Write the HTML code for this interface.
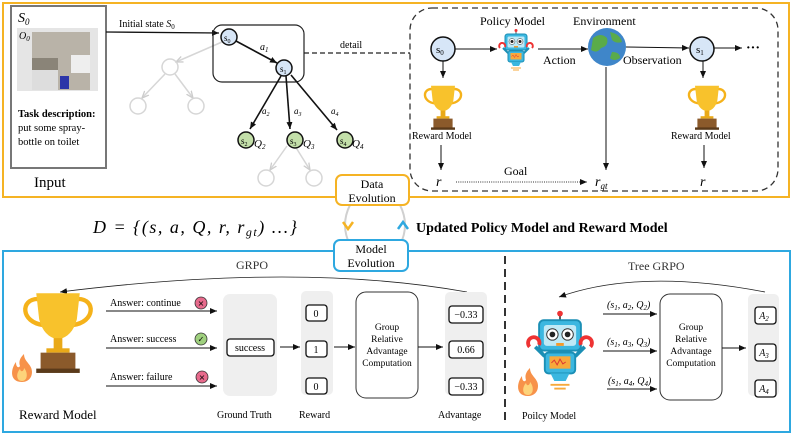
<!DOCTYPE html>
<html><head><meta charset="utf-8"><style>
body{margin:0;background:#fff;}
svg{display:block;font-family:"Liberation Serif",serif;}
.it{font-style:italic;}
</style></head><body>
<svg width="793" height="436" viewBox="0 0 793 436" xmlns="http://www.w3.org/2000/svg">
<defs>
<marker id="ah" markerWidth="8" markerHeight="8" refX="7" refY="4" orient="auto" markerUnits="userSpaceOnUse"><path d="M0,1 L7,4 L0,7 z" fill="#111"/></marker>
<marker id="ahg" markerWidth="8" markerHeight="8" refX="7" refY="4" orient="auto" markerUnits="userSpaceOnUse"><path d="M0,1 L7,4 L0,7" fill="none" stroke="#ccc" stroke-width="1.3"/></marker>
<g id="trophy">
<path d="M-14,-20 C-26,-20 -26,-4 -10,-2" fill="none" stroke="#f5b21a" stroke-width="3"/>
<path d="M14,-20 C26,-20 26,-4 10,-2" fill="none" stroke="#f5b21a" stroke-width="3"/>
<path d="M-15,-24 L15,-24 L13,-6 Q10,6 0,8 Q-10,6 -13,-6 z" fill="#f8c22c"/>
<rect x="-3" y="7" width="6" height="8" fill="#e9a918"/>
<rect x="-8" y="14" width="16" height="3" fill="#e9a918"/>
<rect x="-12" y="17" width="24" height="12" fill="#8b5a2b"/>
<rect x="-15" y="28" width="30" height="3" fill="#5a3a1a"/>
</g>
<g id="robot">
<line x1="0" y1="-30" x2="0" y2="-24" stroke="#555" stroke-width="2"/>
<circle cx="0" cy="-31" r="3" fill="#e33"/>
<rect x="-22" y="-24" width="44" height="32" rx="5" fill="#3bb7e0" stroke="#1b8fb5" stroke-width="2"/>
<rect x="-17" y="-19" width="34" height="22" rx="3" fill="#bfe9f6"/>
<circle cx="-8" cy="-9" r="6" fill="#fff" stroke="#333"/><circle cx="-8" cy="-9" r="3" fill="#222"/>
<circle cx="8" cy="-9" r="6" fill="#fff" stroke="#333"/><circle cx="8" cy="-9" r="3" fill="#222"/>
<rect x="-4" y="0" width="8" height="3" fill="#f39a2b"/>
<rect x="-16" y="10" width="32" height="22" rx="4" fill="#3bb7e0" stroke="#1b8fb5" stroke-width="2"/>
<rect x="-11" y="14" width="22" height="13" fill="#f7a93b"/>
<path d="M-9,21 l3,-3 l3,5 l3,-6 l3,5 l3,-2" stroke="#d33" fill="none" stroke-width="1"/>
<path d="M-16,14 L-26,4" stroke="#1b8fb5" stroke-width="4"/><path d="M16,14 L26,4" stroke="#1b8fb5" stroke-width="4"/>
<path d="M-32,4 a6,6 0 1 1 10,-2" stroke="#e33" stroke-width="4" fill="none"/>
<path d="M32,4 a6,6 0 1 0 -10,-2" stroke="#e33" stroke-width="4" fill="none"/>
<path d="M-10,32 L10,32 L6,40 L-6,40 z" fill="#3bb7e0"/>
<line x1="-10" y1="44" x2="10" y2="44" stroke="#f7a93b" stroke-width="2"/>
<line x1="-6" y1="48" x2="6" y2="48" stroke="#f7a93b" stroke-width="2"/>
</g>
<g id="flame">
<path d="M0,14 C-12,14 -12,2 -6,-6 C-6,0 -3,0 -2,-2 C-4,-8 0,-12 2,-14 C2,-6 10,-4 10,4 C10,10 6,14 0,14z" fill="#f7924a"/>
<path d="M0,13 C-6,13 -6,5 -2,1 C-1,5 2,3 2,0 C6,4 6,13 0,13z" fill="#fdd37a"/>
</g>
</defs>

<rect x="3" y="3" width="786" height="194" fill="none" stroke="#f5b324" stroke-width="2"/>
<rect x="3" y="251" width="787" height="181" fill="none" stroke="#2ea8e0" stroke-width="2"/>

<rect x="11" y="6" width="95" height="162" fill="#fff" stroke="#777" stroke-width="2"/>
<text x="18" y="22" class="it" font-size="14">S<tspan font-size="9" dy="3">0</tspan></text>
<rect x="17" y="28" width="81" height="63" fill="#e5e5e5"/>
<text x="19" y="39" class="it" font-size="10">O<tspan font-size="7" dy="2">0</tspan></text>
<rect x="32" y="32" width="58" height="58" fill="#b9b3a8"/>
<rect x="32" y="58" width="26" height="12" fill="#8a8478"/>
<rect x="32" y="70" width="26" height="20" fill="#ddd"/>
<rect x="71" y="55" width="19" height="18" fill="#eee"/>
<rect x="60" y="76" width="9" height="13" fill="#2c35a8"/>
<text x="18" y="117" font-size="10.5" font-weight="bold">Task description:</text>
<text x="18" y="131" font-size="10.5">put some spray-</text>
<text x="18" y="145" font-size="10.5">bottle on toilet</text>
<text x="34" y="187" font-size="15">Input</text>

<line x1="106" y1="32" x2="219" y2="33" stroke="#111" stroke-width="1.3" marker-end="url(#ah)"/>
<text x="119" y="27" font-size="10">Initial state <tspan class="it">S</tspan><tspan font-size="7" dy="2">0</tspan></text>

<g stroke="#d6d6d6" stroke-width="1.5" fill="none">
<line x1="222" y1="42" x2="176" y2="62" marker-end="url(#ahg)"/>
<circle cx="170" cy="67" r="8"/>
<line x1="165" y1="74" x2="142" y2="98" marker-end="url(#ahg)"/>
<line x1="175" y1="74" x2="193" y2="98" marker-end="url(#ahg)"/>
<circle cx="138" cy="106" r="8"/><circle cx="196" cy="106" r="8"/>
<line x1="287" y1="146" x2="270" y2="170" marker-end="url(#ahg)"/>
<line x1="295" y1="146" x2="310" y2="170" marker-end="url(#ahg)"/>
<circle cx="266" cy="178" r="8"/><circle cx="314" cy="178" r="8"/>
</g>
<rect x="213" y="25" width="91" height="57" rx="9" fill="none" stroke="#222" stroke-width="1.2"/>
<line x1="304" y1="53" x2="410" y2="53" stroke="#222" stroke-width="1.3" stroke-dasharray="5,3"/>
<text x="340" y="48" font-size="10">detail</text>
<g stroke="#111" stroke-width="1.6">
<line x1="236" y1="41" x2="277" y2="63" marker-end="url(#ah)"/>
<line x1="281" y1="76" x2="250" y2="129" marker-end="url(#ah)"/>
<line x1="286" y1="76" x2="290" y2="129" marker-end="url(#ah)"/>
<line x1="291" y1="75" x2="337" y2="130" marker-end="url(#ah)"/>
</g>
<circle cx="229" cy="37" r="8" fill="#d7e6f7" stroke="#111" stroke-width="1.5"/>
<circle cx="284" cy="68" r="8" fill="#d7e6f7" stroke="#111" stroke-width="1.5"/>
<text x="224" y="41" font-size="9">s<tspan font-size="6" dy="2">0</tspan></text>
<text x="280" y="72" font-size="9">s<tspan font-size="6" dy="2">1</tspan></text>
<text x="260" y="50" class="it" font-size="10">a<tspan font-size="7" dy="2">1</tspan></text>
<text x="262" y="114" class="it" font-size="9">a<tspan font-size="6" dy="2">2</tspan></text>
<text x="294" y="114" class="it" font-size="9">a<tspan font-size="6" dy="2">3</tspan></text>
<text x="331" y="114" class="it" font-size="9">a<tspan font-size="6" dy="2">4</tspan></text>
<g fill="#c3dfa9" stroke="#111" stroke-width="1.5">
<circle cx="246" cy="140" r="8"/><circle cx="295" cy="140" r="8"/><circle cx="345" cy="140" r="8"/>
</g>
<text x="241" y="144" font-size="9">s<tspan font-size="6" dy="2">2</tspan></text>
<text x="290" y="144" font-size="9">s<tspan font-size="6" dy="2">3</tspan></text>
<text x="340" y="144" font-size="9">s<tspan font-size="6" dy="2">4</tspan></text>
<text x="254" y="147" class="it" font-size="11">Q<tspan font-size="7" dy="2">2</tspan></text>
<text x="303" y="147" class="it" font-size="11">Q<tspan font-size="7" dy="2">3</tspan></text>
<text x="352" y="147" class="it" font-size="11">Q<tspan font-size="7" dy="2">4</tspan></text>

<rect x="410" y="8" width="368" height="183" rx="22" fill="none" stroke="#333" stroke-width="1.3" stroke-dasharray="6,4"/>
<circle cx="443" cy="49" r="12" fill="#d7e6f7" stroke="#111" stroke-width="1.5"/>
<text x="436" y="53" font-size="11">s<tspan font-size="7" dy="2">0</tspan></text>
<line x1="455" y1="49" x2="497" y2="49" stroke="#111" stroke-width="1" marker-end="url(#ah)"/>
<g transform="translate(516,46) scale(0.5)"><use href="#robot"/></g>
<text x="480" y="25" font-size="12">Policy Model</text>
<line x1="538" y1="49" x2="588" y2="49" stroke="#111" stroke-width="1" marker-end="url(#ah)"/>
<text x="543" y="64" font-size="12">Action</text>
<text x="573" y="25" font-size="12">Environment</text>
<circle cx="607" cy="47" r="19" fill="#3f86c9"/>
<path d="M593,38 q8,-6 14,0 q2,8 -6,10 q-4,6 -10,2 z M610,32 q10,2 12,10 q-6,2 -10,-2 z M612,52 q8,0 8,6 q-6,4 -10,0 z" fill="#5aab4a"/>
<line x1="626" y1="47" x2="689" y2="48" stroke="#111" stroke-width="1" marker-end="url(#ah)"/>
<text x="623" y="64" font-size="12">Observation</text>
<circle cx="702" cy="49" r="12" fill="#d7e6f7" stroke="#111" stroke-width="1.5"/>
<text x="696" y="53" font-size="11">s<tspan font-size="7" dy="2">1</tspan></text>
<line x1="714" y1="48" x2="742" y2="48" stroke="#111" stroke-width="1" marker-end="url(#ah)"/>
<text x="746" y="52" font-size="14" font-weight="bold">···</text>
<line x1="443" y1="61" x2="443" y2="78" stroke="#111" marker-end="url(#ah)"/>
<line x1="703" y1="61" x2="703" y2="78" stroke="#111" marker-end="url(#ah)"/>
<g transform="translate(443,105) scale(0.8)"><use href="#trophy"/></g>
<g transform="translate(707,105) scale(0.8)"><use href="#trophy"/></g>
<text x="412" y="139" font-size="10">Reward Model</text>
<text x="671" y="139" font-size="10">Reward Model</text>
<line x1="441" y1="145" x2="441" y2="170" stroke="#111" marker-end="url(#ah)"/>
<line x1="704" y1="145" x2="704" y2="168" stroke="#111" marker-end="url(#ah)"/>
<line x1="606" y1="67" x2="606" y2="170" stroke="#111" marker-end="url(#ah)"/>
<text x="436" y="186" class="it" font-size="14">r</text>
<text x="700" y="186" class="it" font-size="14">r</text>
<text x="595" y="186" class="it" font-size="14">r<tspan font-size="9" dy="3">gt</tspan></text>
<line x1="456" y1="182" x2="587" y2="182" stroke="#333" stroke-dasharray="1,1.2" marker-end="url(#ah)"/>
<text x="504" y="175" font-size="12">Goal</text>

<path d="M350,205 Q340,225 350,245 M400,205 Q410,225 400,245" fill="none" stroke="#d0d0d0" stroke-width="2"/>
<path d="M343,222 L348,229 L353,222" fill="none" stroke="#f5b324" stroke-width="2.5"/>
<path d="M398,229 L403,222 L408,229" fill="none" stroke="#2ea8e0" stroke-width="2.5"/>
<rect x="336" y="175" width="73" height="30" rx="6" fill="#fff" stroke="#f5b324" stroke-width="2"/>
<text x="372" y="188" font-size="12" text-anchor="middle">Data</text>
<text x="372" y="202" font-size="12" text-anchor="middle">Evolution</text>
<rect x="334" y="240" width="74" height="31" rx="6" fill="#fff" stroke="#2ea8e0" stroke-width="2"/>
<text x="371" y="253" font-size="12" text-anchor="middle">Model</text>
<text x="371" y="267" font-size="12" text-anchor="middle">Evolution</text>
<text x="93" y="233" class="it" font-size="18" letter-spacing="1.5">D = {(s, a, Q, r, r<tspan font-size="12" dy="3">gt</tspan><tspan dy="-3">) ...}</tspan></text>
<text x="416" y="232" font-size="14" font-weight="bold">Updated Policy Model and Reward Model</text>

<path d="M467,292 Q300,262 60,292" fill="none" stroke="#222" stroke-width="0.8" marker-end="url(#ah)"/>
<text x="236" y="269" font-size="12" fill="#333">GRPO</text>
<g transform="translate(58,328) scale(1.45)"><use href="#trophy"/></g>
<g transform="translate(22,368)"><use href="#flame"/></g>
<text x="19" y="419" font-size="13">Reward Model</text>
<g font-size="10">
<text x="110" y="306">Answer: continue</text>
<text x="110" y="342">Answer: success</text>
<text x="110" y="380">Answer: failure</text>
</g>
<g stroke="#111" stroke-width="1">
<line x1="106" y1="311" x2="217" y2="311" marker-end="url(#ah)"/>
<line x1="106" y1="348" x2="217" y2="348" marker-end="url(#ah)"/>
<line x1="106" y1="386" x2="217" y2="386" marker-end="url(#ah)"/>
</g>
<circle cx="201" cy="303" r="6" fill="#e76a8c" stroke="#333" stroke-width="0.8"/><text x="201" y="306" font-size="8" text-anchor="middle" font-family="DejaVu Sans">×</text>
<circle cx="201" cy="339" r="6" fill="#9fd07e" stroke="#333" stroke-width="0.8"/><text x="201" y="342" font-size="8" text-anchor="middle" font-family="DejaVu Sans">✓</text>
<circle cx="202" cy="377" r="6" fill="#e76a8c" stroke="#333" stroke-width="0.8"/><text x="202" y="380" font-size="8" text-anchor="middle" font-family="DejaVu Sans">×</text>
<rect x="223" y="294" width="54" height="102" rx="7" fill="#efefef"/>
<rect x="227" y="339" width="47" height="17" rx="3" fill="#fff" stroke="#111" stroke-width="1.3"/>
<text x="250" y="351" font-size="10" text-anchor="middle">success</text>
<text x="217" y="418" font-size="10">Ground Truth</text>
<line x1="280" y1="347" x2="300" y2="347" stroke="#111" marker-end="url(#ah)"/>
<rect x="301" y="291" width="32" height="104" rx="5" fill="#efefef"/>
<g fill="#fff" stroke="#111" stroke-width="1.3">
<rect x="306" y="305" width="21" height="16" rx="3"/><rect x="306" y="341" width="21" height="16" rx="3"/><rect x="306" y="378" width="21" height="16" rx="3"/>
</g>
<g font-size="10" text-anchor="middle"><text x="316" y="317">0</text><text x="316" y="353">1</text><text x="316" y="390">0</text></g>
<text x="299" y="418" font-size="10">Reward</text>
<line x1="334" y1="347" x2="355" y2="347" stroke="#111" marker-end="url(#ah)"/>
<rect x="356" y="292" width="62" height="106" rx="10" fill="#fff" stroke="#333" stroke-width="1"/>
<g font-size="9.5" text-anchor="middle"><text x="387" y="330">Group</text><text x="387" y="342">Relative</text><text x="387" y="354">Advantage</text><text x="387" y="366">Computation</text></g>
<line x1="418" y1="347" x2="443" y2="347" stroke="#111" marker-end="url(#ah)"/>
<rect x="445" y="292" width="42" height="103" rx="5" fill="#efefef"/>
<g fill="#fff" stroke="#111" stroke-width="1.3">
<rect x="449" y="306" width="34" height="17" rx="3"/><rect x="449" y="341" width="34" height="17" rx="3"/><rect x="449" y="378" width="34" height="17" rx="3"/>
</g>
<g font-size="10" text-anchor="middle"><text x="466" y="318">−0.33</text><text x="466" y="353">0.66</text><text x="466" y="390">−0.33</text></g>
<text x="438" y="418" font-size="10">Advantage</text>

<line x1="505" y1="256" x2="505" y2="425" stroke="#333" stroke-width="2" stroke-dasharray="8,5"/>

<path d="M765,292 Q640,268 559,297" fill="none" stroke="#222" stroke-width="0.8" marker-end="url(#ah)"/>
<text x="628" y="270" font-size="12" fill="#333">Tree GRPO</text>
<g transform="translate(560,343) scale(0.95)"><use href="#robot"/></g>
<g transform="translate(528,382)"><use href="#flame"/></g>
<text x="522" y="419" font-size="10">Poilcy Model</text>
<g font-size="10" class="it">
<text x="607" y="308">(s<tspan font-size="7" dy="2">1</tspan><tspan dy="-2">, a</tspan><tspan font-size="7" dy="2">2</tspan><tspan dy="-2">, Q</tspan><tspan font-size="7" dy="2">2</tspan><tspan dy="-2">)</tspan></text>
<text x="607" y="345">(s<tspan font-size="7" dy="2">1</tspan><tspan dy="-2">, a</tspan><tspan font-size="7" dy="2">3</tspan><tspan dy="-2">, Q</tspan><tspan font-size="7" dy="2">3</tspan><tspan dy="-2">)</tspan></text>
<text x="608" y="384">(s<tspan font-size="7" dy="2">1</tspan><tspan dy="-2">, a</tspan><tspan font-size="7" dy="2">4</tspan><tspan dy="-2">, Q</tspan><tspan font-size="7" dy="2">4</tspan><tspan dy="-2">)</tspan></text>
</g>
<g stroke="#111" stroke-width="1">
<line x1="603" y1="314" x2="657" y2="314" marker-end="url(#ah)"/>
<line x1="603" y1="351" x2="657" y2="351" marker-end="url(#ah)"/>
<line x1="607" y1="389" x2="657" y2="389" marker-end="url(#ah)"/>
</g>
<rect x="660" y="294" width="62" height="106" rx="10" fill="#fff" stroke="#333" stroke-width="1"/>
<g font-size="9.5" text-anchor="middle"><text x="691" y="330">Group</text><text x="691" y="342">Relative</text><text x="691" y="354">Advantage</text><text x="691" y="366">Computation</text></g>
<line x1="722" y1="348" x2="746" y2="348" stroke="#111" marker-end="url(#ah)"/>
<rect x="748" y="294" width="31" height="102" rx="5" fill="#efefef"/>
<g fill="#fff" stroke="#111" stroke-width="1.3">
<rect x="755" y="307" width="21" height="17" rx="3"/><rect x="755" y="344" width="21" height="17" rx="3"/><rect x="755" y="380" width="21" height="17" rx="3"/>
</g>
<g font-size="10" class="it" text-anchor="middle"><text x="764" y="319">A<tspan font-size="7" dy="2">2</tspan></text><text x="764" y="356">A<tspan font-size="7" dy="2">3</tspan></text><text x="764" y="392">A<tspan font-size="7" dy="2">4</tspan></text></g>
</svg>
</body></html>
